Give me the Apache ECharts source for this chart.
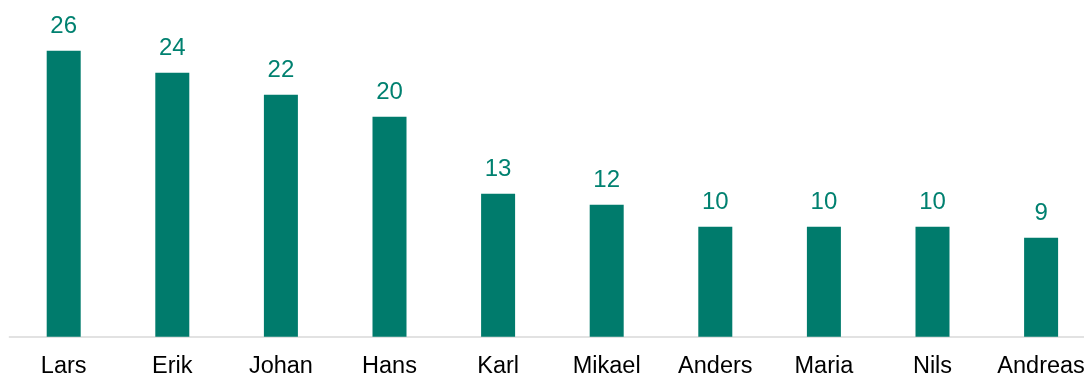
<!DOCTYPE html>
<html>
<head>
<meta charset="utf-8">
<script src="https://cdn.jsdelivr.net/npm/echarts@6/dist/echarts.min.js"></script>
<style>
  html, body { margin: 0; padding: 0; background: #ffffff; }
  #chart { width: 1084px; height: 374px; }
</style>
</head>
<body>
<div id="chart"></div>
<script>
// Names and counts shown on the bar chart
const names = ['Lars', 'Erik', 'Johan', 'Hans', 'Karl', 'Mikael', 'Anders', 'Maria', 'Nils', 'Andreas'];
const counts = [26, 24, 22, 20, 13, 12, 10, 10, 10, 9];

const chart = echarts.init(document.getElementById('chart'));
chart.setOption({
  animation: false,
  grid: {
    left: 9.4, top: 6.7, width: 1086, height: 330,
    containLabel: false,
    outerBoundsMode: 'none'
  },
  xAxis: {
    type: 'category',
    data: names,
    axisLine: { lineStyle: { color: '#d9d9d9', width: 1.5 } },
    axisTick: { show: false },
    axisLabel: {
      interval: 0,
      hideOverlap: false,
      color: '#000000',
      fontFamily: 'Liberation Sans, Arial, sans-serif',
      fontSize: 23.5,
      margin: 18
    }
  },
  yAxis: {
    type: 'value',
    min: 0,
    max: 30,
    show: false,
    splitLine: { show: false }
  },
  series: [{
    type: 'bar',
    data: counts,
    barWidth: 34,
    itemStyle: { color: '#007B6C' },
    label: {
      show: true,
      position: 'top',
      distance: 12,
      color: '#008170',
      fontFamily: 'Liberation Sans, Arial, sans-serif',
      fontSize: 24
    }
  }]
});
</script>
</body>
</html>
